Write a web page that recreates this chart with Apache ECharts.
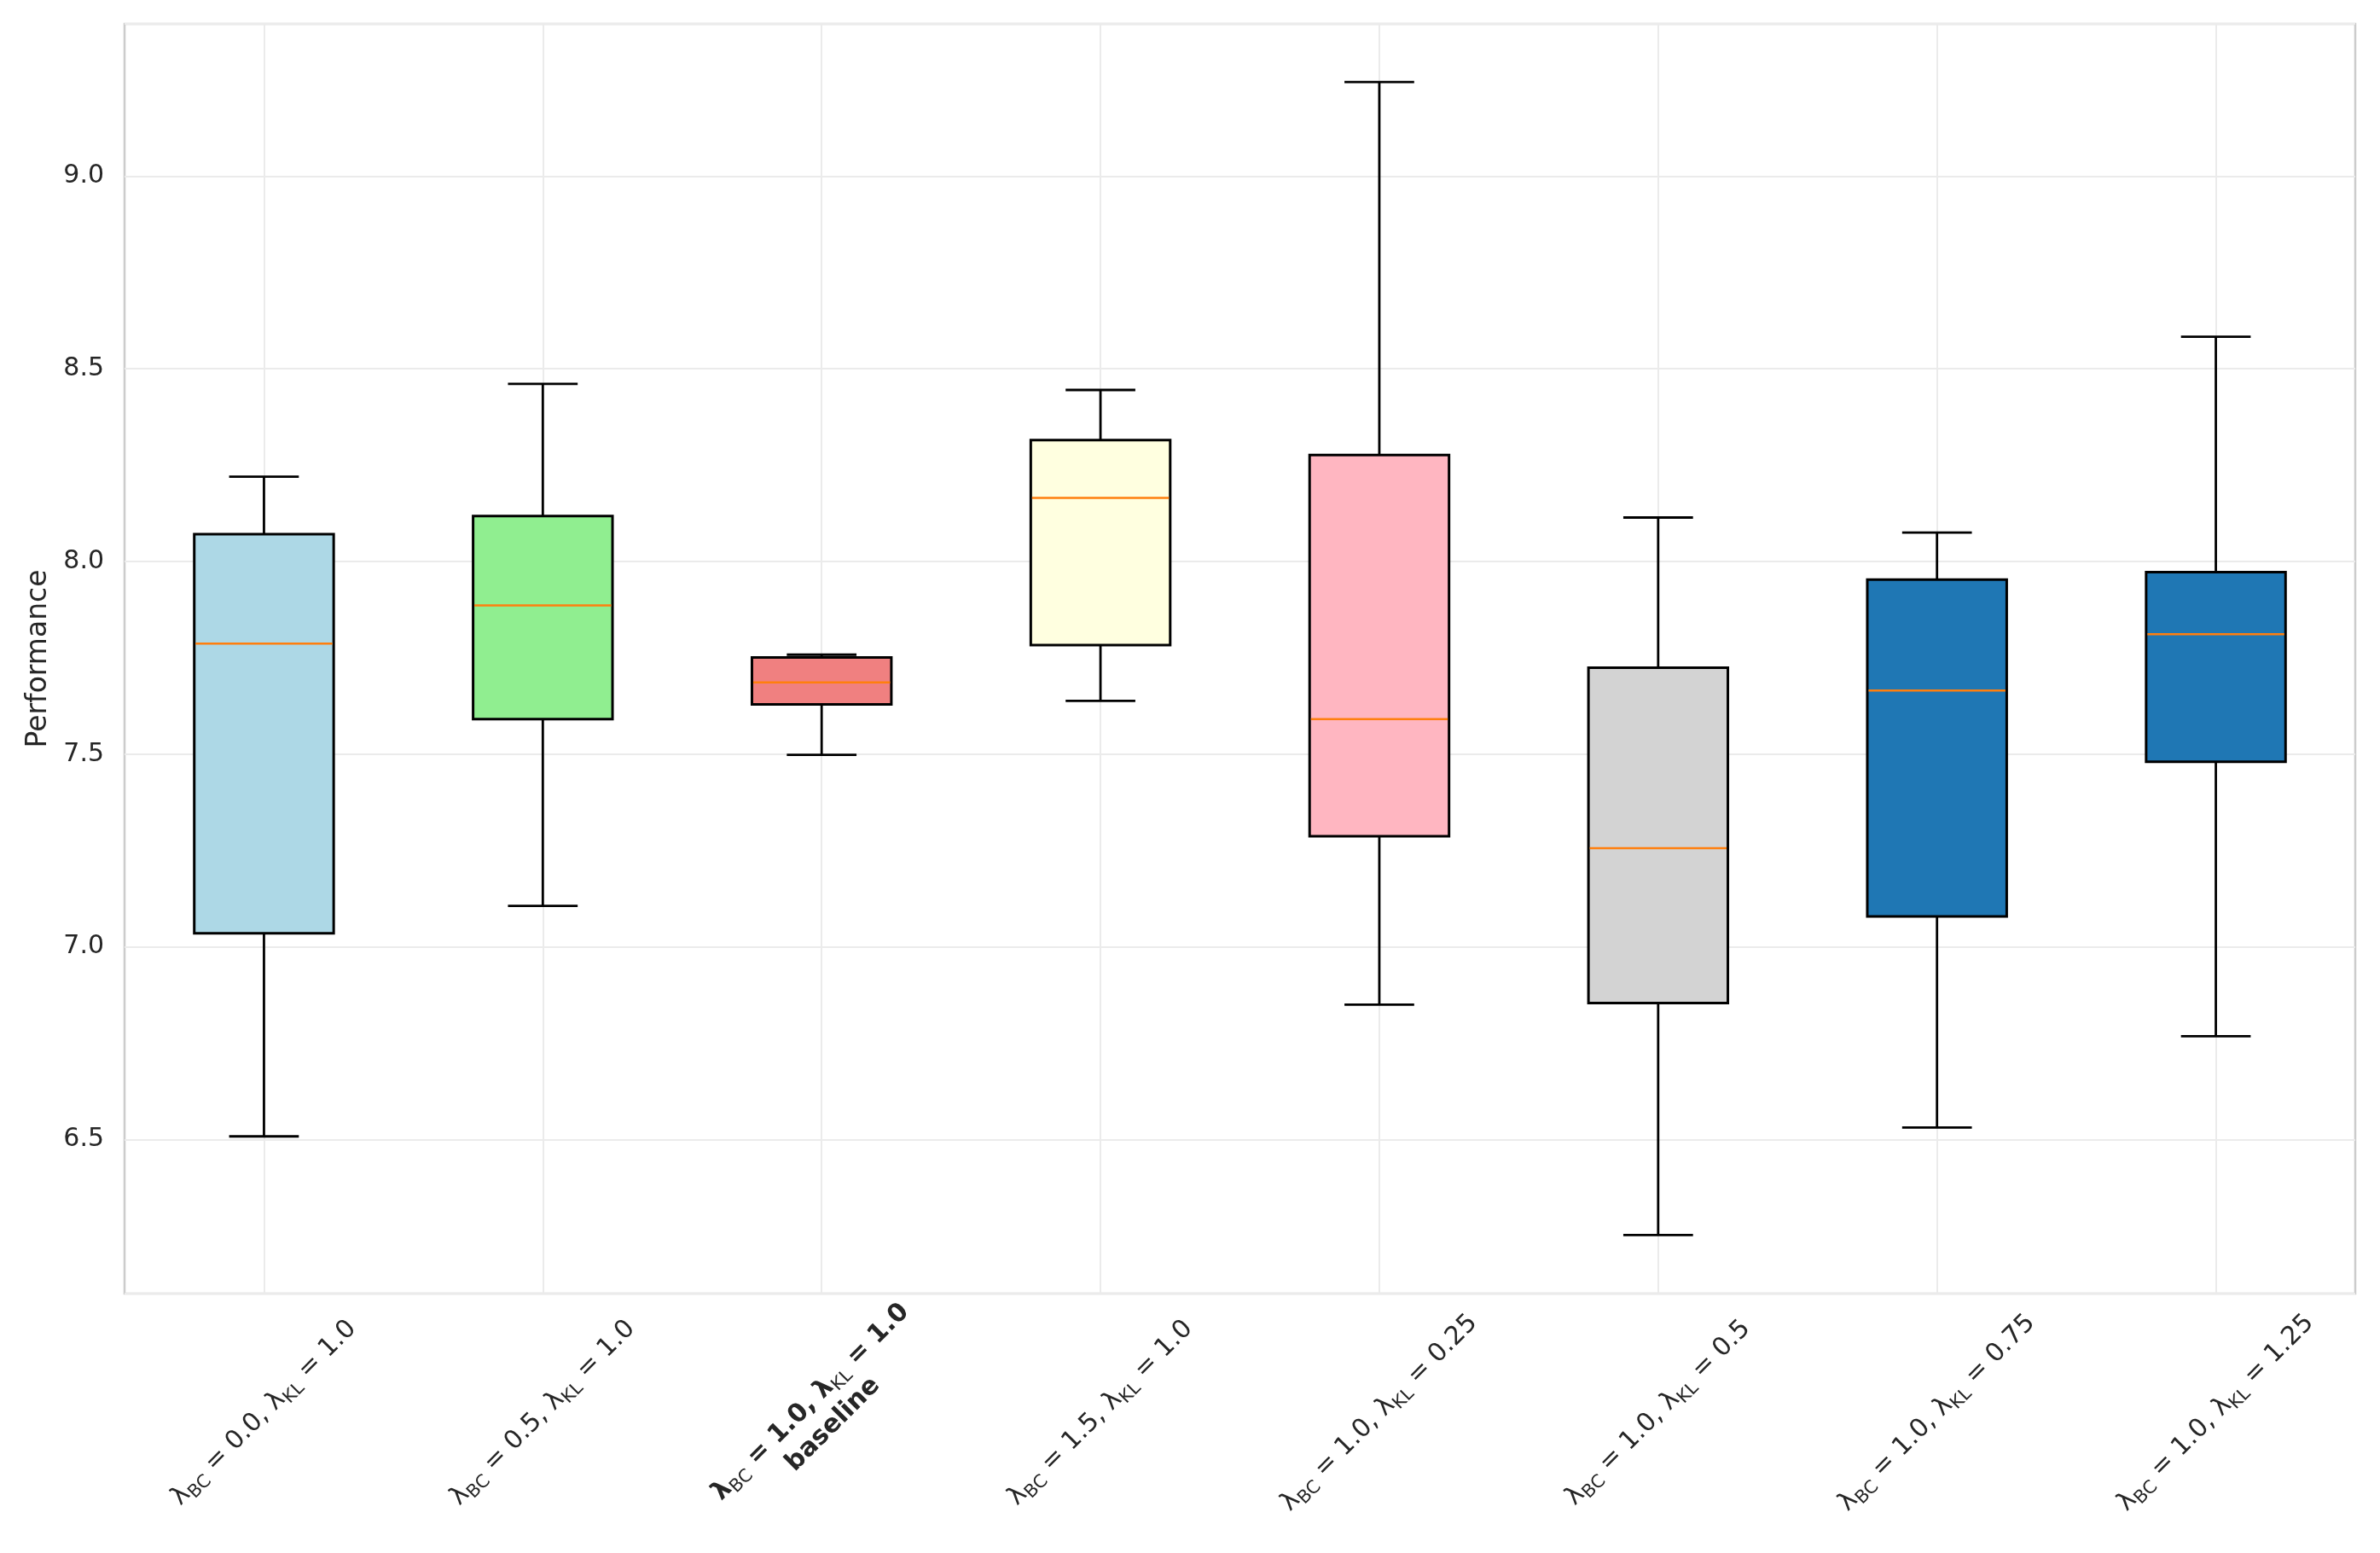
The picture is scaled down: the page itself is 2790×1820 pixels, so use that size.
<!DOCTYPE html>
<html>
<head>
<meta charset="utf-8">
<title>Performance boxplot</title>
<script src="https://cdn.jsdelivr.net/npm/echarts@6/dist/echarts.min.js"></script>
<style>
  html, body { margin: 0; padding: 0; background: #fff; }
  #chart { width: 2790px; height: 1820px; }
</style>
</head>
<body>
<div id="chart"></div>
<script>
// box statistics per setting
var categories = [
  'λBC = 0.0, λKL = 1.0',
  'λBC = 0.5, λKL = 1.0',
  'λBC = 1.0, λKL = 1.0\nbaseline',
  'λBC = 1.5, λKL = 1.0',
  'λBC = 1.0, λKL = 0.25',
  'λBC = 1.0, λKL = 0.5',
  'λBC = 1.0, λKL = 0.75',
  'λBC = 1.0, λKL = 1.25'
];
var whiskerLow  = [6.508, 7.106, 7.498, 7.638, 6.850, 6.252, 6.531, 6.768];
var quartile1   = [7.035, 7.591, 7.629, 7.783, 7.287, 6.854, 7.079, 7.480];
var medians     = [7.787, 7.886, 7.686, 8.165, 7.591, 7.256, 7.665, 7.811];
var quartile3   = [8.071, 8.118, 7.751, 8.315, 8.276, 7.724, 7.953, 7.972];
var whiskerHigh = [8.220, 8.461, 7.758, 8.445, 9.244, 8.114, 8.075, 8.583];
var baselineIndex = 2;

var boxColors = ['#add8e6', '#90ee90', '#f08080', '#ffffe0', '#ffb6c1', '#d3d3d3', '#1f77b4', '#1f77b4'];
var textColor = '#262626';

var rows = categories.map(function (c, i) {
  return [i, whiskerLow[i], quartile1[i], medians[i], quartile3[i], whiskerHigh[i]];
});

function labelText(value, index) {
  var bold = index === baselineIndex;
  var lines = value.split('\n');
  var out = lines.map(function (line, li) {
    if (li > 0) return '{bb|' + line + '}';
    var parts = line.split(/λ(BC|KL)/);
    var s = '';
    for (var k = 0; k < parts.length; k++) {
      if (k % 2 === 1) {
        s += '{' + (bold ? 'lb' : 'l') + '|λ}{s|' + parts[k] + '}';
      } else if (parts[k]) {
        s += '{' + (bold ? 'nb' : 'n') + '|' + parts[k] + '}';
      }
    }
    return s;
  });
  return out.join('\n');
}

var chart = echarts.init(document.getElementById('chart'));

var option = {
  backgroundColor: '#ffffff',
  animation: false,
  grid: {
    left: 146,
    right: 29,
    top: 28,
    bottom: 304,
    show: true,
    borderColor: '#cccccc',
    borderWidth: 2.5,
    outerBoundsMode: 'none'
  },
  xAxis: {
    type: 'category',
    data: categories,
    boundaryGap: true,
    axisLine: { show: false },
    axisTick: { show: false },
    splitLine: {
      show: true,
      alignWithLabel: true,
      lineStyle: { color: '#ebebeb', width: 2 }
    },
    axisLabel: {
      interval: 0,
      rotate: 45,
      align: 'center',
      verticalAlign: 'middle',
      margin: 140,
      color: textColor,
      fontFamily: 'DejaVu Sans',
      fontSize: 30,
      lineHeight: 38,
      formatter: labelText,
      rich: {
        n: { fontSize: 30, lineHeight: 38, color: textColor, fontFamily: 'DejaVu Sans' },
        nb: { fontSize: 30, lineHeight: 38, color: textColor, fontFamily: 'DejaVu Sans', fontWeight: 'bold' },
        l: { fontSize: 30, lineHeight: 38, color: textColor, fontFamily: 'DejaVu Sans' },
        lb: { fontSize: 30, lineHeight: 38, color: textColor, fontFamily: 'DejaVu Sans', fontWeight: 'bold' },
        s: { fontSize: 21, lineHeight: 22, verticalAlign: 'bottom', color: textColor, fontFamily: 'DejaVu Sans' },
        bb: { fontSize: 30, lineHeight: 36, color: textColor, fontFamily: 'DejaVu Sans', fontWeight: 'bold' }
      }
    }
  },
  yAxis: {
    type: 'value',
    min: 6.10,
    max: 9.395,
    splitNumber: 6,
    name: 'Performance',
    nameLocation: 'middle',
    nameGap: 84,
    nameTextStyle: { color: textColor, fontFamily: 'DejaVu Sans', fontSize: 33 },
    axisLine: { show: false },
    axisTick: { show: false },
    splitLine: { show: true, lineStyle: { color: '#ebebeb', width: 2 } },
    axisLabel: {
      showMinLabel: false,
      showMaxLabel: false,
      margin: 24,
      color: textColor,
      fontFamily: 'DejaVu Sans',
      fontSize: 30,
      formatter: function (v) { return v.toFixed(1); }
    }
  },
  series: [{
    type: 'custom',
    data: rows,
    encode: { x: 0, y: [1, 2, 3, 4, 5] },
    renderItem: function (params, api) {
      var i = api.value(0);
      var band = api.size([1, 0])[0];
      var half = band * 0.25;
      var cap = band * 0.125;
      var pLow = api.coord([i, api.value(1)]);
      var pQ1 = api.coord([i, api.value(2)]);
      var pMed = api.coord([i, api.value(3)]);
      var pQ3 = api.coord([i, api.value(4)]);
      var pHigh = api.coord([i, api.value(5)]);
      var cx = pLow[0];
      var black = { stroke: '#000000', lineWidth: 2.8 };
      return {
        type: 'group',
        children: [
          { type: 'line', shape: { x1: cx, y1: pQ1[1], x2: cx, y2: pLow[1] }, style: black },
          { type: 'line', shape: { x1: cx, y1: pQ3[1], x2: cx, y2: pHigh[1] }, style: black },
          { type: 'line', shape: { x1: cx - cap, y1: pLow[1], x2: cx + cap, y2: pLow[1] }, style: black },
          { type: 'line', shape: { x1: cx - cap, y1: pHigh[1], x2: cx + cap, y2: pHigh[1] }, style: black },
          {
            type: 'rect',
            shape: { x: cx - half, y: pQ3[1], width: half * 2, height: pQ1[1] - pQ3[1] },
            style: { fill: boxColors[params.dataIndex], stroke: '#000000', lineWidth: 3 }
          },
          {
            type: 'line',
            shape: { x1: cx - half + 1.5, y1: pMed[1], x2: cx + half - 1.5, y2: pMed[1] },
            style: { stroke: '#ff7f0e', lineWidth: 2.5 }
          }
        ]
      };
    }
  }]
};

chart.setOption(option);
</script>
</body>
</html>
